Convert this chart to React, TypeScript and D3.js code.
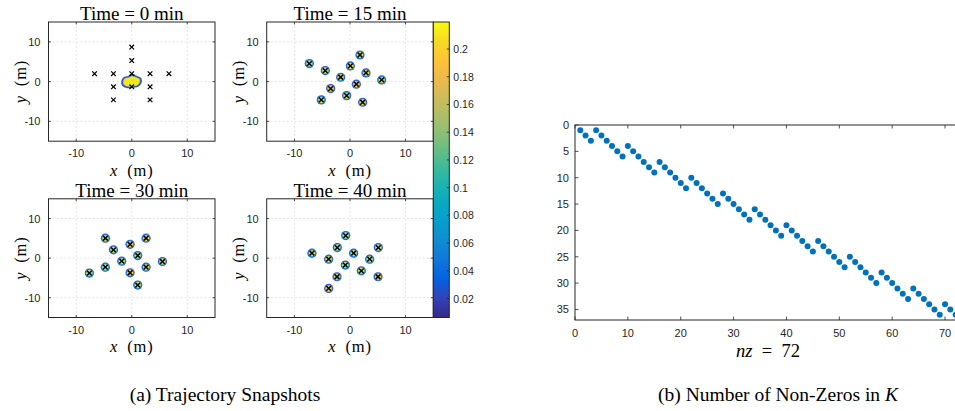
import React from "react";
import * as d3 from "d3";

// ---------------- DATA ----------------
const snapshotTitles = ["Time = 0 min", "Time = 15 min", "Time = 30 min", "Time = 40 min"];
const panelTicks = [-10, 0, 10];
const panelDomain = [-15, 15];

// agent positions (x, y) in metres
const agents0: [number, number][] = [
  [0, 8.7], [0, 5.3], [-6.7, 2], [-3.3, 2], [0, 2], [3.3, 2], [6.7, 2],
  [-3.3, -1.3], [0, -1.3], [3.3, -1.3], [-3.3, -4.6], [3.3, -4.6],
];
// outline of the density blob at t = 0
const density0Outline: [number, number][] = [
  [-1.75, 0.1], [-1.4, 0.95], [-0.6, 1.25], [0.1, 1.75], [0.9, 1.25], [1.6, 0.75],
  [1.6, -0.35], [1.1, -1.15], [0.2, -1.4], [-0.75, -1.45], [-1.6, -0.95],
];
const agents15: [number, number][] = [
  [-7.33, 4.53], [-4.45, 2.77], [0.06, 3.95], [1.8, 6.7], [2.88, 2.19], [5.71, 0.43],
  [-1.68, 1.1], [1.14, -0.66], [-3.48, -1.76], [-0.6, -3.53], [2.28, -5.2], [-5.17, -4.6],
];
const agents30: [number, number][] = [
  [-4.74, 5.04], [2.58, 5.04], [-0.3, 3.5], [-3.3, 2.1], [1.08, 0.66], [-1.8, -0.76],
  [5.53, -0.85], [-4.76, -2.27], [2.58, -2.27], [-7.64, -3.78], [-0.3, -3.7], [1.08, -6.8],
];
const agents40: [number, number][] = [
  [-0.78, 5.7], [-2.28, 2.67], [5.1, 2.67], [-6.85, 1.26], [0.66, 1.26], [-3.84, -0.25],
  [3.54, -0.25], [-0.84, -1.76], [2.04, -3.2], [-2.34, -4.7], [5.05, -4.7], [-3.84, -7.65],
];

const colorbarTicks = [0.02, 0.04, 0.06, 0.08, 0.1, 0.12, 0.14, 0.16, 0.18, 0.2];
const colorbarDomain = [0.0063, 0.2195];

// sparsity pattern: row index of the non-zero in each column 1..72
const spyRows = [
  1, 2, 3,
  1, 2, 3, 4, 5, 6,
  4, 5, 6, 7, 8, 9,
  7, 8, 9, 10, 11, 12,
  10, 11, 12, 13, 14, 15,
  13, 14, 15, 16, 17, 18,
  16, 17, 18, 19, 20, 21,
  19, 20, 21, 22, 23, 24,
  22, 23, 24, 25, 26, 27,
  25, 26, 27, 28, 29, 30,
  28, 29, 30, 31, 32, 33,
  31, 32, 33, 34, 35, 36,
  34, 35, 36,
];
const spyXTicks = [0, 10, 20, 30, 40, 50, 60, 70];
const spyYTicks = [0, 5, 10, 15, 20, 25, 30, 35];
const spyXDomain = [0, 73];
const spyYDomain = [0, 37];

// parula colormap (subset)
const parula = [
  [0.2081, 0.1663, 0.5292], [0.1959, 0.2645, 0.7279], [0.0117, 0.3875, 0.882],
  [0.0629, 0.4737, 0.8554], [0.0641, 0.557, 0.824], [0.0239, 0.6287, 0.8038],
  [0.0384, 0.6743, 0.7436], [0.1453, 0.7098, 0.6646], [0.3022, 0.7376, 0.5712],
  [0.487, 0.7491, 0.484], [0.6473, 0.7456, 0.4188], [0.7858, 0.7356, 0.3633],
  [0.9139, 0.7258, 0.3063], [0.999, 0.7653, 0.2164], [0.9697, 0.8481, 0.1475],
  [0.9763, 0.9831, 0.0538],
];

// ---------------- STYLE ----------------
const SANS = "'Liberation Sans', Arial, Helvetica, sans-serif";
const SERIF = "'Liberation Serif', 'Times New Roman', serif";
const AX = "#262626";
const GRID = "#d9d9d9";

type Box = { x0: number; x1: number; y0: number; y1: number };

const panelBoxes: Box[] = [
  { x0: 48.5, x1: 215, y0: 22, y1: 141.2 },
  { x0: 266.7, x1: 433.3, y0: 22, y1: 141.2 },
  { x0: 48.5, x1: 215, y0: 198.8, y1: 317.5 },
  { x0: 266.7, x1: 433.3, y0: 198.8, y1: 317.5 },
];

function Cross({ x, y, s = 2.6, w = 1.4 }: { x: number; y: number; s?: number; w?: number }) {
  return (
    <g stroke="#000" strokeWidth={w} strokeLinecap="butt">
      <line x1={x - s} y1={y - s} x2={x + s} y2={y + s} />
      <line x1={x - s} y1={y + s} x2={x + s} y2={y - s} />
    </g>
  );
}

function Panel({ box, title, agents, blob }: { box: Box; title: string; agents: [number, number][]; blob?: [number, number][] }) {
  const xs = d3.scaleLinear().domain(panelDomain).range([box.x0, box.x1]);
  const ys = d3.scaleLinear().domain(panelDomain).range([box.y1, box.y0]);
  const cx = (box.x0 + box.x1) / 2;
  const cy = (box.y0 + box.y1) / 2;
  const tl = 2.5;
  const blobPath = blob
    ? d3.line<[number, number]>().x((d) => xs(d[0])).y((d) => ys(d[1])).curve(d3.curveCatmullRomClosed)(blob)
    : null;
  const innerPath = blob
    ? d3.line<[number, number]>().x((d) => xs(d[0] * 0.85)).y((d) => ys(d[1] * 0.82)).curve(d3.curveCatmullRomClosed)(blob)
    : null;
  return (
    <g>
      <rect x={box.x0} y={box.y0} width={box.x1 - box.x0} height={box.y1 - box.y0} fill="#fff" />
      {panelTicks.map((t) => (
        <g key={"g" + t} stroke={GRID} strokeWidth={0.7} strokeDasharray="2,2">
          <line x1={xs(t)} x2={xs(t)} y1={box.y0} y2={box.y1} />
          <line x1={box.x0} x2={box.x1} y1={ys(t)} y2={ys(t)} />
        </g>
      ))}
      {blobPath && (
        <g>
          <path d={blobPath} fill="#2ec0a0" stroke="#3550e0" strokeWidth={1.6} />
          <path d={innerPath!} fill="#f7e61a" />
        </g>
      )}
      {!blob &&
        agents.map((a, i) => (
          <g key={"c" + i}>
            <circle cx={xs(a[0])} cy={ys(a[1])} r={4.6} fill="#3550dc" />
            <circle cx={xs(a[0])} cy={ys(a[1])} r={3.7} fill="#1aa9c9" />
            <circle cx={xs(a[0])} cy={ys(a[1])} r={3.0} fill="#f2dc25" />
          </g>
        ))}
      {agents.map((a, i) => (
        <Cross key={"x" + i} x={xs(a[0])} y={ys(a[1])} s={blob ? 2.3 : 2.4} w={blob ? 1.2 : 1.5} />
      ))}
      {panelTicks.map((t) => (
        <g key={"t" + t} stroke={AX} strokeWidth={0.8}>
          <line x1={xs(t)} x2={xs(t)} y1={box.y1} y2={box.y1 - tl} />
          <line x1={xs(t)} x2={xs(t)} y1={box.y0} y2={box.y0 + tl} />
          <line x1={box.x0} x2={box.x0 + tl} y1={ys(t)} y2={ys(t)} />
          <line x1={box.x1} x2={box.x1 - tl} y1={ys(t)} y2={ys(t)} />
        </g>
      ))}
      <rect x={box.x0} y={box.y0} width={box.x1 - box.x0} height={box.y1 - box.y0} fill="none" stroke={AX} strokeWidth={1} />
      {panelTicks.map((t) => (
        <text key={"xl" + t} x={xs(t)} y={box.y1 + 16} textAnchor="middle" fontFamily={SANS} fontSize={11} fill={AX}>
          {t < 0 ? "-" + Math.abs(t) : t}
        </text>
      ))}
      {panelTicks.map((t) => (
        <text key={"yl" + t} x={box.x0 - 8} y={ys(t) + 4} textAnchor="end" fontFamily={SANS} fontSize={11} fill={AX}>
          {t < 0 ? "-" + Math.abs(t) : t}
        </text>
      ))}
      <text x={cx} y={box.y0 - 2} textAnchor="middle" fontFamily={SERIF} fontSize={19} fill="#000">
        {title}
      </text>
      <text x={cx} y={box.y1 + 34.5} textAnchor="middle" fontFamily={SERIF} fontSize={16.5} letterSpacing={0.8} fill="#000">
        <tspan fontStyle="italic">x</tspan>{"\u2002(m)"}
      </text>
      <text transform={`translate(${box.x0 - 23},${cy}) rotate(-90)`} textAnchor="middle" fontFamily={SERIF} fontSize={16.5} letterSpacing={0.8} fill="#000">
        <tspan fontStyle="italic">y</tspan>{"\u2002(m)"}
      </text>
    </g>
  );
}

function Colorbar() {
  const x0 = 433.3, x1 = 449.3, y0 = 22, y1 = 317.5;
  const s = d3.scaleLinear().domain(colorbarDomain).range([y1, y0]);
  const stops = parula.map((c, i) => ({
    off: i / (parula.length - 1),
    col: d3.rgb(c[0] * 255, c[1] * 255, c[2] * 255).formatHex(),
  }));
  return (
    <g>
      <defs>
        <linearGradient id="parula" x1="0" y1="1" x2="0" y2="0">
          {stops.map((st, i) => (
            <stop key={i} offset={st.off} stopColor={st.col} />
          ))}
        </linearGradient>
      </defs>
      <rect x={x0} y={y0} width={x1 - x0} height={y1 - y0} fill="url(#parula)" />
      {colorbarTicks.map((t) => (
        <g key={t}>
          <line x1={x1} x2={x1 - 2.5} y1={s(t)} y2={s(t)} stroke={AX} strokeWidth={0.8} />
          <text x={x1 + 4} y={s(t) + 4} fontFamily={SANS} fontSize={10.5} fill={AX}>
            {d3.format("~g")(t)}
          </text>
        </g>
      ))}
      <rect x={x0} y={y0} width={x1 - x0} height={y1 - y0} fill="none" stroke={AX} strokeWidth={1} />
    </g>
  );
}

function Spy() {
  const box = { x0: 575, x1: 960.9, y0: 125, y1: 320 };
  const xs = d3.scaleLinear().domain(spyXDomain).range([box.x0, box.x1]);
  const ys = d3.scaleLinear().domain(spyYDomain).range([box.y0, box.y1]);
  const tl = 3.5;
  return (
    <g>
      {spyRows.map((r, i) => (
        <circle key={i} cx={xs(i + 1)} cy={ys(r)} r={3} fill="#0072BD" />
      ))}
      {spyXTicks.map((t) => (
        <g key={"x" + t}>
          <line x1={xs(t)} x2={xs(t)} y1={box.y1} y2={box.y1 - tl} stroke={AX} strokeWidth={0.8} />
          <line x1={xs(t)} x2={xs(t)} y1={box.y0} y2={box.y0 + tl} stroke={AX} strokeWidth={0.8} />
          <text x={xs(t)} y={box.y1 + 16.5} textAnchor="middle" fontFamily={SANS} fontSize={11} fill={AX}>
            {t}
          </text>
        </g>
      ))}
      {spyYTicks.map((t) => (
        <g key={"y" + t}>
          <line x1={box.x0} x2={box.x0 + tl} y1={ys(t)} y2={ys(t)} stroke={AX} strokeWidth={0.8} />
          <text x={box.x0 - 6} y={ys(t) + 4} textAnchor="end" fontFamily={SANS} fontSize={11} fill={AX}>
            {t}
          </text>
        </g>
      ))}
      <rect x={box.x0} y={box.y0} width={box.x1 - box.x0} height={box.y1 - box.y0} fill="none" stroke={AX} strokeWidth={1} />
      <text x={(box.x0 + box.x1) / 2} y={356.5} textAnchor="middle" fontFamily={SERIF} fontSize={18.5} fill="#000">
        <tspan fontStyle="italic">nz</tspan>{"\u2002=\u200272"}
      </text>
    </g>
  );
}

export default function App() {
  const sets = [agents0, agents15, agents30, agents40];
  return (
    <svg width={955} height={411} style={{ position: "absolute", left: 0, top: 0, background: "#fff" }}>
      <rect width={955} height={411} fill="#fff" />
      {panelBoxes.map((b, i) => (
        <Panel key={i} box={b} title={snapshotTitles[i]} agents={sets[i]} blob={i === 0 ? density0Outline : undefined} />
      ))}
      <Colorbar />
      <Spy />
      <text x={225} y={401} textAnchor="middle" fontFamily={SERIF} fontSize={19.5} fill="#000">
        (a) Trajectory Snapshots
      </text>
      <text x={778} y={401} textAnchor="middle" fontFamily={SERIF} fontSize={19.5} fill="#000">
        (b) Number of Non-Zeros in <tspan fontStyle="italic">K</tspan>
      </text>
    </svg>
  );
}
